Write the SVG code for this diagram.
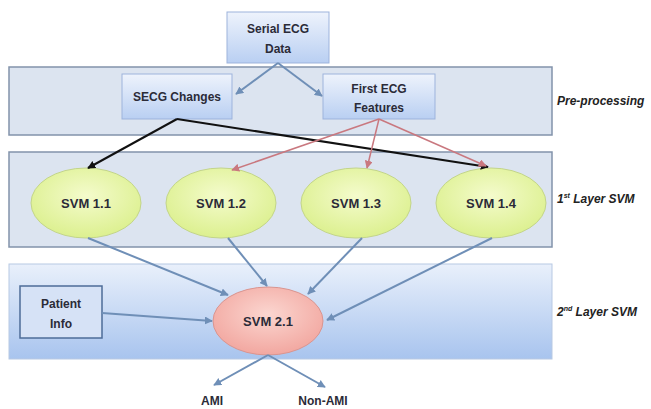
<svg xmlns="http://www.w3.org/2000/svg" width="651" height="409" viewBox="0 0 651 409">
<defs>
<linearGradient id="boxg" x1="0" y1="0" x2="0" y2="1"><stop offset="0" stop-color="#eef3fc"/><stop offset="1" stop-color="#b9cff2"/></linearGradient>
<linearGradient id="p3g" x1="0" y1="0" x2="0" y2="1"><stop offset="0" stop-color="#e9f0fb"/><stop offset="1" stop-color="#a8c4ee"/></linearGradient>
<radialGradient id="yg" cx="0.5" cy="0.4" r="0.6"><stop offset="0" stop-color="#f4fbcc"/><stop offset="1" stop-color="#dcf08f"/></radialGradient>
<radialGradient id="rg" cx="0.5" cy="0.4" r="0.6"><stop offset="0" stop-color="#fbd6d0"/><stop offset="1" stop-color="#f2a7a0"/></radialGradient>
<marker id="ab" viewBox="0 0 10 10" refX="9" refY="5" markerWidth="8" markerHeight="8" markerUnits="userSpaceOnUse" orient="auto"><path d="M0,0 L10,5 L0,10 z" fill="#6f8fb7"/></marker>
<marker id="ak" viewBox="0 0 10 10" refX="9" refY="5" markerWidth="8" markerHeight="8" markerUnits="userSpaceOnUse" orient="auto"><path d="M0,0 L10,5 L0,10 z" fill="#111"/></marker>
<marker id="ar" viewBox="0 0 10 10" refX="9" refY="5" markerWidth="8" markerHeight="8" markerUnits="userSpaceOnUse" orient="auto"><path d="M0,0 L10,5 L0,10 z" fill="#c9787f"/></marker>
</defs>
<style>
.panel{fill:#dce4f0;stroke:#8293ab;stroke-width:1.5}
.box{fill:url(#boxg);stroke:#9db3dc;stroke-width:1}
.svm1{fill:url(#yg);stroke:#c3d58a;stroke-width:1}
.svm2{fill:url(#rg);stroke:#d99590;stroke-width:1}
.t{font-family:"Liberation Sans",Arial,sans-serif;font-weight:bold;font-size:12px;fill:#2b2b38;text-anchor:middle}
.ts{font-size:13px}
.lbl{font-family:"Liberation Sans",Arial,sans-serif;font-weight:bold;font-style:italic;font-size:12px;fill:#222}
.cb{stroke:#6f8fb7;stroke-width:2;fill:none;marker-end:url(#ab)}
.ck{stroke:#111;stroke-width:2;fill:none;marker-end:url(#ak)}
.cr{stroke:#c9787f;stroke-width:1.5;fill:none;marker-end:url(#ar)}
</style>
<rect width="651" height="409" fill="#ffffff"/>
<g id="panels">
<rect id="panel-pre" class="panel" x="9" y="67" width="543" height="68"/>
<rect id="panel-l1" class="panel" x="9" y="152" width="543" height="95"/>
<rect id="panel-l2" x="9" y="264" width="543" height="95" fill="url(#p3g)" stroke="#b8c9e3" stroke-width="1"/>
</g>
<g id="labels">
<text class="lbl" x="557" y="105">Pre-processing</text>
<text class="lbl" x="557" y="203">1<tspan font-size="7" dy="-5">st</tspan><tspan dy="5"> Layer SVM</tspan></text>
<text class="lbl" x="557" y="316">2<tspan font-size="7" dy="-5">nd</tspan><tspan dy="5"> Layer SVM</tspan></text>
</g>
<g id="serial"><rect class="box" x="227" y="12" width="102" height="51"/><text class="t" x="278" y="33">Serial ECG</text><text class="t" x="278" y="53">Data</text></g>
<g id="secg"><rect class="box" x="122" y="74" width="110" height="45"/><text class="t" x="177" y="101">SECG Changes</text></g>
<g id="first"><rect class="box" x="323" y="74" width="112" height="45"/><text class="t" x="379" y="93">First ECG</text><text class="t" x="379" y="112">Features</text></g>
<g id="svm11"><ellipse class="svm1" cx="86" cy="203" rx="55" ry="35"/><text class="t ts" x="86" y="208">SVM 1.1</text></g>
<g id="svm12"><ellipse class="svm1" cx="221" cy="203" rx="55" ry="35"/><text class="t ts" x="221" y="208">SVM 1.2</text></g>
<g id="svm13"><ellipse class="svm1" cx="356" cy="203" rx="55" ry="35"/><text class="t ts" x="356" y="208">SVM 1.3</text></g>
<g id="svm14"><ellipse class="svm1" cx="491" cy="203" rx="55" ry="35"/><text class="t ts" x="491" y="208">SVM 1.4</text></g>
<g id="patient"><rect x="20" y="286" width="82" height="52" fill="#d6e2f6" stroke="#4d6c98" stroke-width="1.5"/><text class="t" x="61" y="308">Patient</text><text class="t" x="61" y="328">Info</text></g>
<g id="svm21"><ellipse class="svm2" cx="268" cy="321" rx="55" ry="34"/><text class="t ts" x="268" y="326">SVM 2.1</text></g>
<g id="outputs"><text class="t" x="212" y="405">AMI</text><text class="t" x="323" y="405">Non-AMI</text></g>
<g id="connectors">
<path class="cb" d="M278,63 L236,94"/>
<path class="cb" d="M278,63 L322,96"/>
<path class="ck" d="M177,119 L88,168"/>
<path class="ck" d="M177,119 L488,167"/>
<path class="cr" d="M379,119 L232,170"/>
<path class="cr" d="M379,119 L367,168"/>
<path class="cr" d="M379,119 L486,166"/>
<path class="cb" d="M88,238 L228,295"/>
<path class="cb" d="M228,238 L267,286"/>
<path class="cb" d="M362,238 L308,294"/>
<path class="cb" d="M492,238 L327,320"/>
<path class="cb" d="M102,313 L212,321"/>
<path class="cb" d="M268,355 L214,385"/>
<path class="cb" d="M268,355 L325,387"/>
</g>
</svg>
